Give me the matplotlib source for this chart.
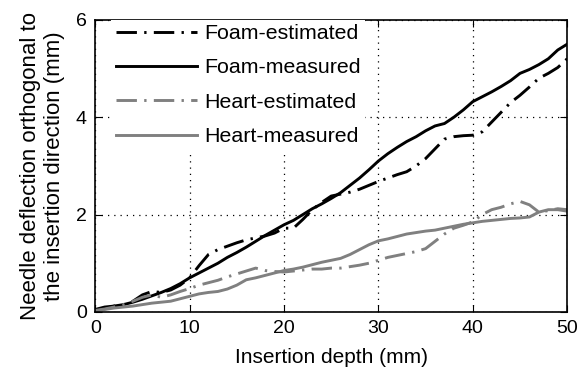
import numpy as np
import matplotlib.pyplot as plt

# Insertion depth (mm), shared by all series
depth = np.arange(0, 51)

# Needle deflection (mm)
foam_measured = [0.02, 0.07, 0.12, 0.15, 0.2, 0.26, 0.33, 0.4, 0.48, 0.58,
                 0.7, 0.8, 0.9, 1.0, 1.12, 1.22, 1.33, 1.45, 1.57, 1.68,
                 1.79, 1.88, 2.0, 2.12, 2.22, 2.33, 2.45, 2.6, 2.75, 2.92,
                 3.1, 3.25, 3.38, 3.5, 3.6, 3.72, 3.82, 3.87, 4.0, 4.15,
                 4.32, 4.42, 4.52, 4.63, 4.75, 4.9, 4.98, 5.08, 5.2, 5.38, 5.5]
foam_estimated = [0.05, 0.1, 0.12, 0.15, 0.22, 0.35, 0.42, 0.4, 0.45, 0.55,
                  0.7, 0.95, 1.18, 1.28, 1.35, 1.42, 1.48, 1.52, 1.56, 1.62,
                  1.72, 1.72, 1.9, 2.1, 2.25, 2.38, 2.42, 2.46, 2.52, 2.6,
                  2.68, 2.75, 2.82, 2.88, 3.0, 3.15, 3.35, 3.55, 3.6, 3.62,
                  3.63, 3.7, 3.9, 4.1, 4.3, 4.45, 4.62, 4.8, 4.9, 5.02, 5.2]
heart_measured = [0.02, 0.05, 0.08, 0.1, 0.12, 0.15, 0.18, 0.2, 0.22, 0.27,
                  0.32, 0.37, 0.4, 0.42, 0.47, 0.55, 0.66, 0.7, 0.75, 0.8,
                  0.85, 0.88, 0.92, 0.97, 1.02, 1.06, 1.1, 1.18, 1.28, 1.38,
                  1.46, 1.5, 1.55, 1.6, 1.63, 1.66, 1.68, 1.72, 1.76, 1.8,
                  1.83, 1.86, 1.88, 1.9, 1.92, 1.93, 1.95, 2.05, 2.1, 2.1, 2.07]
heart_estimated = [0.03, 0.06, 0.1, 0.15, 0.22, 0.3, 0.35, 0.3, 0.35, 0.42,
                   0.48, 0.55, 0.6, 0.65, 0.72, 0.78, 0.84, 0.9, 0.85, 0.83,
                   0.82, 0.84, 0.86, 0.88, 0.88, 0.9, 0.9, 0.93, 0.96, 1.0,
                   1.06, 1.12, 1.16, 1.2, 1.24, 1.3, 1.45, 1.6, 1.72, 1.78,
                   1.85, 2.0, 2.1, 2.15, 2.22, 2.27, 2.2, 2.05, 2.08, 2.12, 2.1]

plt.rcParams['font.family'] = ['Liberation Sans', 'DejaVu Sans']

fig = plt.figure(figsize=(5.77, 3.74), dpi=100)
ax = fig.add_axes([0.165, 0.166, 0.818, 0.781])

gray = '#808080'
dd = (7, 2.5, 0.8, 2.5)
ax.plot(depth, foam_estimated, color='black', lw=2.1, dashes=dd, label='Foam-estimated')
ax.plot(depth, foam_measured, color='black', lw=2.1, label='Foam-measured')
ax.plot(depth, heart_estimated, color=gray, lw=2.1, dashes=dd, label='Heart-estimated')
ax.plot(depth, heart_measured, color=gray, lw=2.1, label='Heart-measured')

ax.set_xlim(0, 50)
ax.set_ylim(0, 6)
ax.set_xticks([0, 10, 20, 30, 40, 50])
ax.set_yticks([0, 2, 4, 6])
ax.grid(True, color='black', linestyle=(0, (1, 4)), linewidth=0.9)
ax.tick_params(direction='in', top=True, right=True, length=5, labelsize=14, pad=6)
for s in ax.spines.values():
    s.set_linewidth(1.2)

ax.set_xlabel('Insertion depth (mm)', fontsize=15, labelpad=8)
ax.set_ylabel('Needle deflection orthogonal to\nthe insertion direction (mm)', fontsize=16,
              labelpad=8, linespacing=1.2)

leg = ax.legend(loc='upper left', bbox_to_anchor=(0.034, 1.0), frameon=True,
                fontsize=15.4, handlelength=3.83, labelspacing=0.72,
                borderaxespad=0, borderpad=0.2, handletextpad=0.3)
leg.get_frame().set_edgecolor('none')
leg.get_frame().set_facecolor('white')
leg.get_frame().set_alpha(1)
leg.get_frame().set_boxstyle('square', pad=0)

fig.savefig('out.png', dpi=100)
